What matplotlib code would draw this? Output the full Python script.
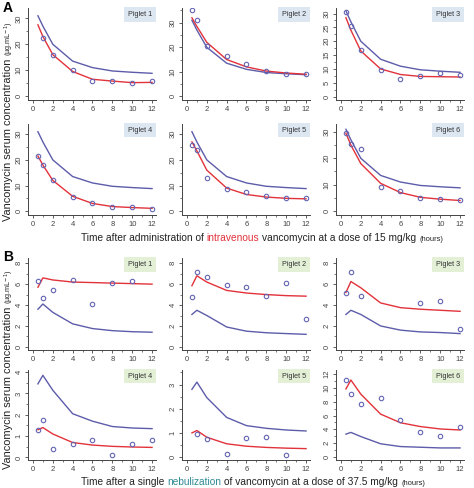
import numpy as np
import matplotlib
matplotlib.use("Agg")
import matplotlib.pyplot as plt
from matplotlib.ticker import MultipleLocator

plt.rcParams['font.family'] = ['Liberation Sans', 'DejaVu Sans']

# sampling times of the model curves (h)
t_fit = [0.5, 1, 2, 4, 6, 8, 10, 12]

# ---- A: intravenous 15 mg/kg ----
a_blue = [31, 27, 20, 13.5, 11, 9.7, 9.2, 8.8]
a_red = [
    [27.5, 23, 16, 9.5, 6.5, 5.8, 5.2, 5.3],
    [32, 28.5, 22, 15, 12, 10.3, 9.5, 9.0],
    [28.5, 24, 16.5, 10, 8, 7.3, 7.2, 7.1],
    [21.5, 18, 12, 5.8, 3, 1.8, 1.4, 1.1],
    [27, 23.5, 16, 9, 6.5, 5.5, 5, 4.8],
    [29.5, 25, 18, 10.5, 7, 5.2, 4.5, 4],
]
a_obs_t = [
    [1, 2, 4, 6, 8, 10, 12],
    [0.5, 1, 2, 4, 6, 8, 10, 12],
    [0.5, 1, 2, 4, 6, 8, 10, 12],
    [0.5, 1, 2, 4, 6, 8, 10, 12],
    [0.5, 1, 2, 4, 6, 8, 10, 12],
    [0.5, 1, 2, 4, 6, 8, 10, 12],
]
a_obs = [
    [22.5, 16, 10, 6, 5.8, 5, 6],
    [35, 31, 20.5, 16.5, 13, 10.5, 9, 9],
    [30.5, 25.5, 17, 9.5, 6.5, 7.5, 8.5, 7.8],
    [21.5, 18, 12, 5.5, 3, 1.5, 1.5, 1],
    [26, 24, 13, 8.5, 7.5, 6, 5, 5],
    [29.5, 25.5, 23.5, 9, 7.5, 5, 4.5, 4],
]
a_ylim = [(-1.5, 34), (-1.5, 36), (-1.2, 32), (-1.5, 34), (-1.5, 34), (-1.5, 33)]
a_ystep = [10, 10, 5, 10, 10, 10]

# ---- B: nebulization 37.5 mg/kg ----
b_blue = [
    [3.6, 4.1, 3.3, 2.2, 1.75, 1.55, 1.45, 1.4],
    [3.1, 3.5, 3.0, 1.9, 1.5, 1.35, 1.27, 1.2],
    [3.1, 3.5, 3.1, 2.0, 1.6, 1.43, 1.37, 1.27],
    [3.45, 3.85, 3.15, 2.05, 1.7, 1.45, 1.38, 1.35],
    [2.8, 3.1, 2.46, 1.64, 1.3, 1.19, 1.12, 1.08],
    [3.3, 3.55, 2.95, 1.9, 1.5, 1.4, 1.3, 1.3],
]
b_red = [
    [5.7, 6.6, 6.4, 6.2, 6.15, 6.1, 6.05, 6.0],
    [5.85, 6.8, 6.2, 5.4, 5.15, 5.0, 4.9, 4.85],
    [5.2, 6.25, 5.65, 4.2, 3.75, 3.6, 3.5, 3.4],
    [1.3, 1.4, 1.1, 0.7, 0.58, 0.52, 0.49, 0.47],
    [1.0, 1.1, 0.82, 0.55, 0.45, 0.4, 0.37, 0.35],
    [9.85, 11.15, 9.1, 6.2, 4.95, 4.4, 4.05, 3.9],
]
b_obs_t = [
    [0.5, 1, 2, 4, 6, 8, 10],
    [0.5, 1, 2, 4, 6, 8, 10, 12],
    [0.5, 1, 2, 8, 10, 12],
    [0.5, 1, 2, 4, 6, 8, 10, 12],
    [1, 2, 4, 6, 8, 10],
    [0.5, 1, 2, 4, 6, 8, 10, 12],
]
b_obs = [
    [6.3, 4.7, 5.4, 6.4, 4.1, 6.1, 6.3],
    [4.8, 7.2, 6.7, 5.95, 5.75, 4.9, 6.15, 2.7],
    [5.2, 7.2, 4.85, 4.15, 4.4, 1.7],
    [1.3, 1.75, 0.4, 0.65, 0.8, 0.13, 0.63, 0.8],
    [0.96, 0.75, 0.14, 0.78, 0.82, 0.1],
    [11.2, 9.15, 7.6, 8.6, 5.3, 3.6, 3.1, 4.35],
]
b_ylim = [(-0.3, 8.5), (-0.3, 8.5), (-0.3, 8.5), (-0.12, 4.1), (-0.12, 3.6), (-0.45, 12.6)]
b_ystep = [2, 2, 2, 1, 1, 2]

labels = ["Piglet 1", "Piglet 2", "Piglet 3", "Piglet 4", "Piglet 5", "Piglet 6"]

RED = '#e2323a'
BLUE = '#5d5caa'
CIRC = '#6464b4'

W, H = 474, 488
fig = plt.figure(figsize=(W / 100, H / 100), dpi=100)

col_left = [28, 182, 336]
ax_w = 128
rows = [(8, 100), (124, 215), (258, 350), (370, 460)]


def make_ax(row, col):
    top, bot = rows[row]
    return fig.add_axes([col_left[col] / W, 1 - bot / H, ax_w / W, (bot - top) / H])


def style(ax, ylim, ystep, label, boxcol):
    ax.set_xlim(-0.5, 12.4)
    ax.set_ylim(*ylim)
    ax.xaxis.set_major_locator(MultipleLocator(2))
    ax.xaxis.set_minor_locator(MultipleLocator(1))
    ax.yaxis.set_major_locator(MultipleLocator(ystep))
    ax.yaxis.set_minor_locator(MultipleLocator(ystep / 2))
    for s in ['top', 'right']:
        ax.spines[s].set_visible(False)
    for s in ['left', 'bottom']:
        ax.spines[s].set_linewidth(0.7)
        ax.spines[s].set_color('#444444')
    ax.tick_params(which='major', length=2.5, width=0.6, labelsize=5.5,
                   colors='#444444', pad=1.5)
    ax.tick_params(which='minor', length=1.5, width=0.5, colors='#444444')
    for lab in ax.get_yticklabels():
        lab.set_rotation(90)
        lab.set_va('center')
    ax.text(0.97, 0.93, label, transform=ax.transAxes, ha='right', va='center',
            fontsize=5.2, color='#333333',
            bbox=dict(boxstyle='square,pad=0.5', fc=boxcol, ec='none'))


for i in range(6):
    r, c = divmod(i, 3)
    ax = make_ax(r, c)
    ax.plot(t_fit, a_blue, color=BLUE, lw=1.0)
    ax.plot(t_fit, a_red[i], color=RED, lw=1.0)
    ax.plot(a_obs_t[i], a_obs[i], 'o', ms=3.2, mfc='none', mec=CIRC, mew=0.8)
    style(ax, a_ylim[i], a_ystep[i], labels[i], '#dde7f2')

for i in range(6):
    r, c = divmod(i, 3)
    ax = make_ax(r + 2, c)
    ax.plot(t_fit, b_blue[i], color=BLUE, lw=1.0)
    ax.plot(t_fit, b_red[i], color=RED, lw=1.0)
    ax.plot(b_obs_t[i], b_obs[i], 'o', ms=3.2, mfc='none', mec=CIRC, mew=0.8)
    style(ax, b_ylim[i], b_ystep[i], labels[i], '#e3f0d6')

# panel letters
fig.text(3 / W, 1 - 8 / H, 'A', fontsize=10, fontweight='bold', va='center')
fig.text(3 / W, 1 - 257 / H, 'B', fontsize=10, fontweight='bold', va='center')

renderer = fig.canvas.get_renderer()


def text_w(s, fs):
    tt = fig.text(0, 0, s, fontsize=fs)
    w = tt.get_window_extent(renderer).width
    tt.remove()
    return w


def multi_text(cx, cy, parts, vertical=False):
    # parts: list of (string, color, fontsize, space_after)
    widths = []
    for s, col, fs, sp in parts:
        w = text_w(s, fs)
        if sp:
            w += text_w('a a', fs) - text_w('aa', fs)
        widths.append(w)
    pos = -sum(widths) / 2
    for (s, col, fs, sp), w in zip(parts, widths):
        if vertical:
            fig.text(cx / W, 1 - (cy - pos) / H, s, color=col, fontsize=fs,
                     rotation=90, ha='left', va='baseline', rotation_mode='anchor')
        else:
            fig.text((cx + pos) / W, 1 - cy / H, s, color=col, fontsize=fs,
                     ha='left', va='baseline')
        pos += w


multi_text(262, 241, [
    ('Time after administration of', '#222222', 7.3, True),
    ('intravenous', RED, 7.3, True),
    ('vancomycin at a dose of 15 mg/kg', '#222222', 7.3, True),
    ('(hours)', '#222222', 5.4, False),
])
multi_text(253, 485, [
    ('Time after a single', '#222222', 7.3, True),
    ('nebulization', '#2f8a93', 7.3, True),
    ('of vancomycin at a dose of 37.5 mg/kg', '#222222', 7.3, True),
    ('(hours)', '#222222', 5.4, False),
])

ylab = [
    ('Vancomycin serum concentration', '#222222', 7.9, True),
    (r'(µg.mL$^{-1}$)', '#222222', 5.2, False),
]
multi_text(11, 121, ylab, vertical=True)
multi_text(11, 369, ylab, vertical=True)

fig.savefig('out.png', dpi=100)
